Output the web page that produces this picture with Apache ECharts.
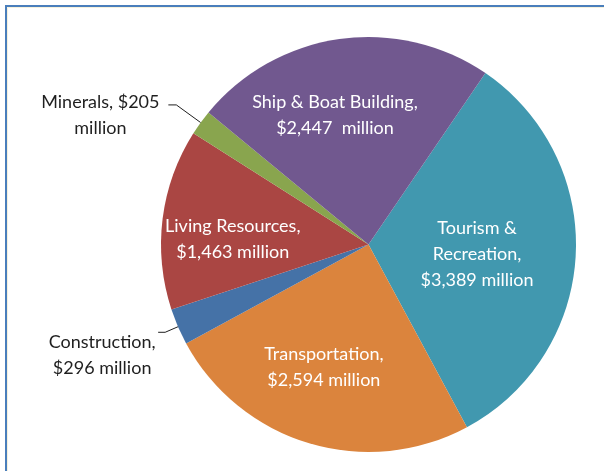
<!DOCTYPE html>
<html>
<head>
<meta charset="utf-8">
<script src="https://cdn.jsdelivr.net/npm/echarts@6/dist/echarts.min.js"></script>
<style>
  html, body { margin: 0; padding: 0; background: #ffffff; }
  #chart { width: 604px; height: 471px; }
</style>
</head>
<body>
<div id="chart"></div>
<script>
// Ocean economy output by sector, in millions of dollars
const categories = ['Tourism & Recreation', 'Transportation', 'Construction', 'Living Resources', 'Minerals', 'Ship & Boat Building'];
const values = [3389, 2594, 296, 1463, 205, 2447];
// Label layout per sector; {v} is replaced with the formatted value
const labelTemplates = [
  'Tourism &\nRecreation,\n{v} million',
  'Transportation,\n{v} million',
  'Construction,\n{v} million',
  'Living Resources,\n{v} million',
  'Minerals, {v}\nmillion',
  'Ship & Boat Building,\n{v}  million'
];
const colors = ['#4198AF', '#DB843D', '#4572A7', '#AA4643', '#89A54E', '#71588F'];
// Sectors too thin for an inside label get an outside label with a leader line
const outsideLabels = ['Construction', 'Minerals'];

const FONT = 'Lato, "Open Sans", sans-serif';
const FONT_SIZE = 18;
const CENTER = [368.5, 244.5];
const R = 207.5;

function money(v) {
  return '$' + v.toLocaleString('en-US');
}
function labelFor(i) {
  return labelTemplates[i].replace('{v}', money(values[i]));
}

// small nudges for inside labels
const insideNudge = {
  'Tourism & Recreation': [-23, 3],
  'Transportation': [-7, -4],
  'Living Resources': [-5, 11],
  'Ship & Boat Building': [-15, 1]
};
// outside label settings (leader line lengths, text block width, top padding)
const outsideStyle = {
  'Minerals': { length: 30, length2: 8, width: 130, pad: 20 },
  'Construction': { length: 14, length2: 7, width: 106, pad: 46 }
};

const sliceData = categories.map((name, i) => {
  const item = { name: name, value: values[i], itemStyle: { color: colors[i] } };
  if (outsideLabels.includes(name)) {
    const s = outsideStyle[name];
    const lines = labelFor(i).split('\n').map(l => '{t|' + l + '}').join('\n');
    item.label = {
      show: true,
      position: 'outside',
      formatter: lines,
      padding: [s.pad, 0, 0, 0],
      distanceToLabelLine: 3,
      rich: {
        t: { width: s.width, align: 'center', fontFamily: FONT, fontSize: FONT_SIZE, lineHeight: 26, color: '#1f1f1f' }
      }
    };
    item.labelLine = { show: true, length: s.length, length2: s.length2, lineStyle: { color: '#1f1f1f', width: 1 } };
  } else {
    item.label = { show: false };
    item.labelLine = { show: false };
  }
  return item;
});

const labelData = categories.map((name, i) => {
  const inside = !outsideLabels.includes(name);
  return {
    name: name,
    value: values[i],
    label: inside ? { show: true, formatter: labelFor(i), offset: insideNudge[name] } : { show: false }
  };
});

const chart = echarts.init(document.getElementById('chart'), null, { renderer: 'canvas' });
chart.setOption({
  backgroundColor: '#ffffff',
  animation: false,
  graphic: [
    { type: 'rect', silent: true, shape: { x: 6, y: 6, width: 900, height: 900 },
      style: { fill: 'none', stroke: '#4a7ebb', lineWidth: 2 } },
    { type: 'rect', silent: true, shape: { x: 7.5, y: 7.5, width: 900, height: 900 },
      style: { fill: 'none', stroke: '#f6f1dc', lineWidth: 1 } }
  ],
  series: [
    {
      type: 'pie',
      center: CENTER,
      radius: [0, R],
      startAngle: 55.7,
      clockwise: true,
      avoidLabelOverlap: false,
      itemStyle: { borderWidth: 0 },
      emphasis: { disabled: true },
      data: sliceData
    },
    {
      // transparent ring that carries the inside labels
      type: 'pie',
      silent: true,
      center: CENTER,
      radius: [50, R],
      startAngle: 55.7,
      clockwise: true,
      avoidLabelOverlap: false,
      itemStyle: { color: 'rgba(0,0,0,0)', borderWidth: 0 },
      emphasis: { disabled: true },
      label: {
        position: 'inside',
        color: '#ffffff',
        fontFamily: FONT,
        fontSize: FONT_SIZE,
        lineHeight: 26,
        align: 'center'
      },
      labelLine: { show: false },
      data: labelData
    }
  ]
});
</script>
</body>
</html>
